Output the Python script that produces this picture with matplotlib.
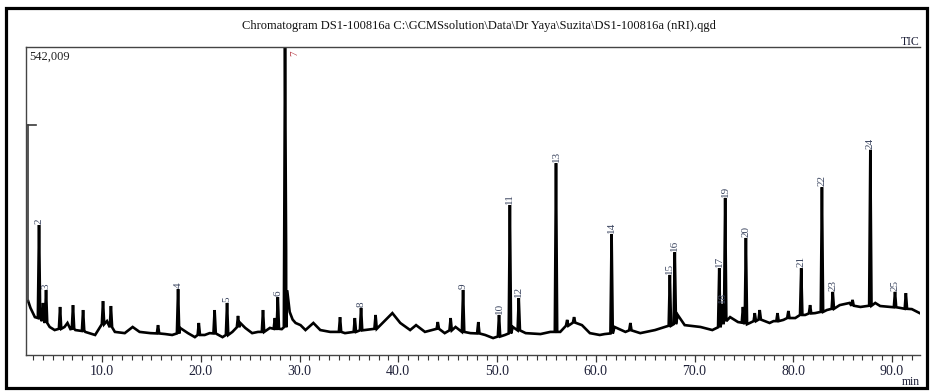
import numpy as np
import matplotlib
matplotlib.use("Agg")
import matplotlib.pyplot as plt
from matplotlib.patches import Rectangle

plt.rcParams['font.family'] = ['Liberation Serif', 'DejaVu Serif']

# baseline of the trace (retention time in min, signal in % of 542,009)
base_time = [2.52, 2.75, 3.2, 3.5, 4.2, 4.7, 5.2, 6.2, 6.5, 6.8, 7.3, 8.3, 9.3, 9.8,
             10.5, 11.3, 12.3, 13.1, 13.8, 14.9, 16.4, 17.1, 17.9, 18.7, 19.4, 20.4,
             20.9, 22.2, 23.2, 24.0, 24.5, 25.2, 25.8, 27.0, 28.2, 28.64, 28.75, 29.0,
             29.3, 29.6, 30.1, 30.6, 31.4, 32.1, 33.1, 34.6, 36.6, 38.5, 39.4, 40.2,
             41.2, 41.8, 42.7, 44.7, 45.8, 47.3, 48.8, 49.6, 50.8, 51.6, 52.9, 54.4,
             55.4, 56.4, 58.6, 59.4, 60.4, 60.9, 61.9, 63.0, 64.5, 66.0, 67.0, 68.3,
             69.0, 70.6, 71.8, 73.6, 74.4, 75.6, 77.6, 78.0, 79.0, 80.2, 81.2, 82.2,
             83.4, 84.7, 85.7, 86.8, 88.3, 88.8, 89.8, 90.8, 92.0, 92.8]
base_signal = [17.5, 15.3, 12.3, 12.0, 10.4, 9.1, 8.1, 9.1, 10.4, 8.4, 8.1, 7.5, 6.5, 9.1,
               11.0, 7.5, 7.1, 9.1, 7.5, 7.1, 6.8, 6.5, 8.8, 7.1, 5.8, 6.5,
               7.1, 5.8, 7.5, 10.4, 8.8, 7.1, 7.5, 8.8, 8.4, 34.0, 21.0, 14.0,
               11.5, 10.4, 9.7, 8.1, 10.4, 8.1, 7.5, 7.1, 8.1, 10.7, 13.6, 10.4,
               8.1, 9.7, 7.5, 7.1, 9.1, 7.1, 6.5, 5.5, 6.5, 9.1, 7.1, 6.8,
               7.5, 7.5, 9.7, 7.1, 6.5, 6.8, 9.1, 7.5, 7.1, 8.1, 9.1, 13.0,
               9.7, 9.1, 8.1, 12.3, 10.7, 10.4, 10.4, 11.0, 11.4, 12.0, 13.0, 13.6,
               14.6, 16.2, 16.9, 15.6, 16.9, 15.9, 15.6, 15.3, 14.9, 13.6]

# peaks: retention time, apex, local base, label
peak_time = [3.62, 4.03, 4.33, 5.75, 7.06, 8.08, 10.1, 10.9, 15.67, 17.7, 19.8, 21.4,
             22.66, 23.77, 26.3, 27.5, 27.8, 28.53, 34.1, 35.6, 36.23, 37.7, 44.0, 45.3,
             46.56, 48.1, 50.2, 51.3, 52.2, 55.97, 57.1, 57.8, 61.6, 63.5, 67.5, 68.0,
             72.5, 72.8, 73.1, 74.9, 75.2, 76.1, 76.6, 78.4, 79.5, 80.8, 81.7, 82.9,
             84.0, 86.0, 87.8, 90.3, 91.4]
peak_top = [42.2, 16.9, 21.1, 15.6, 16.2, 14.6, 17.5, 15.9, 9.7, 21.4, 10.4, 14.6,
            16.9, 12.7, 14.6, 12.0, 18.8, 100.0, 12.3, 12.0, 15.3, 13.0, 10.7, 12.0,
            21.1, 10.7, 13.0, 48.7, 18.5, 62.3, 11.4, 12.3, 39.3, 10.4, 26.0, 33.4,
            28.2, 16.6, 51.0, 15.6, 38.0, 13.6, 14.6, 13.6, 14.3, 28.2, 16.2, 54.5,
            20.5, 17.9, 66.6, 20.5, 20.1]
peak_base = [12.0, 11.0, 10.4, 8.5, 8.5, 7.8, 10.0, 9.0, 7.0, 7.0, 6.5, 7.0,
             6.5, 9.0, 7.5, 8.5, 8.5, 9.0, 7.5, 7.5, 8.0, 8.5, 8.5, 8.0,
             7.5, 7.0, 6.0, 7.0, 8.0, 7.5, 9.5, 10.5, 7.0, 8.0, 9.5, 10.0,
             9.0, 10.0, 11.0, 10.5, 10.0, 11.0, 11.5, 11.0, 12.0, 13.0, 13.5, 14.0,
             15.0, 16.0, 16.0, 15.5, 15.0]
peak_label = ['2', '', '3', '', '', '', '', '', '', '4', '', '',
              '5', '', '', '', '6', '7', '', '', '8', '', '', '',
              '9', '', '10', '11', '12', '13', '', '', '14', '', '15', '16',
              '17', '18', '19', '', '20', '', '', '', '', '21', '', '22',
              '23', '', '24', '25', '']

solvent_time = 2.5
solvent_top = 74.7

title = r"Chromatogram DS1-100816a C:\GCMSsolution\Data\Dr Yaya\Suzita\DS1-100816a (nRI).qgd"

W, H = 932, 391
fig = plt.figure(figsize=(W / 100, H / 100), dpi=100)
ax = fig.add_axes([26 / W, 1 - 355 / H, (920 - 26) / W, (355 - 47) / H])

# build one trace from baseline + narrow peaks
w = 0.12
t = list(base_time)
s = list(base_signal)
for pt, top, b in zip(peak_time, peak_top, peak_base):
    t += [pt - w, pt, pt + w]
    s += [b, top, b]
t = np.array(t)
s = np.array(s)
order = np.argsort(t, kind='stable')
ax.plot(t[order], s[order], color='black', lw=1.9, solid_joinstyle='miter')

# solvent start mark
ax.plot([solvent_time, solvent_time], [solvent_top, base_signal[0]], color='#3a3a3a', lw=1.2)
ax.plot([solvent_time, solvent_time + 0.8], [solvent_top, solvent_top], color='#3a3a3a', lw=1.2)

for pt, top, lab in zip(peak_time, peak_top, peak_label):
    if not lab:
        continue
    if top > 90:
        ax.text(pt + 0.5, 99, lab, rotation=90, ha='left', va='top', fontsize=8,
                color='#b8404a')
    else:
        ax.text(pt, top + 0.4, lab, rotation=90, ha='center', va='bottom', fontsize=8,
                color='#3c4660')

ax.set_xlim(2.3, 92.83)
ax.set_ylim(0, 100)
ax.set_xticks(np.arange(10, 91, 10))
ax.set_xticklabels([f"{v:.1f}" for v in np.arange(10, 91, 10)])
ax.set_xticks(np.arange(3, 93, 1), minor=True)
ax.set_yticks([])
ax.tick_params(axis='x', which='major', length=5, width=0.9, pad=2.5, labelsize=10,
               colors='#333333', labelcolor='#1e2038')
ax.tick_params(axis='x', which='minor', length=3.5, width=0.8, colors='#333333')
ax.spines['right'].set_visible(False)
for side in ['left', 'bottom', 'top']:
    ax.spines[side].set_color('#444444')
    ax.spines[side].set_linewidth(1.0)

fig.text(29 / W, 1 - 57 / H, "542,009", ha='left', va='center', fontsize=9, color='#222222')
fig.text(479 / W, 1 - 26 / H, title, ha='center', va='center', fontsize=9, color='#111111')
fig.text(920 / W, 1 - 42 / H, "TIC", ha='right', va='center', fontsize=8.5, color='#1e2038')
fig.text(920 / W, 1 - 382 / H, "min", ha='right', va='center', fontsize=8.5, color='#1e2038')

fig.patches.append(Rectangle((6 / W, 1 - 388 / H), (927 - 6) / W, (388 - 8) / H,
                             transform=fig.transFigure, fill=False, lw=2.3, ec='black'))

fig.savefig("out.png", dpi=100)
